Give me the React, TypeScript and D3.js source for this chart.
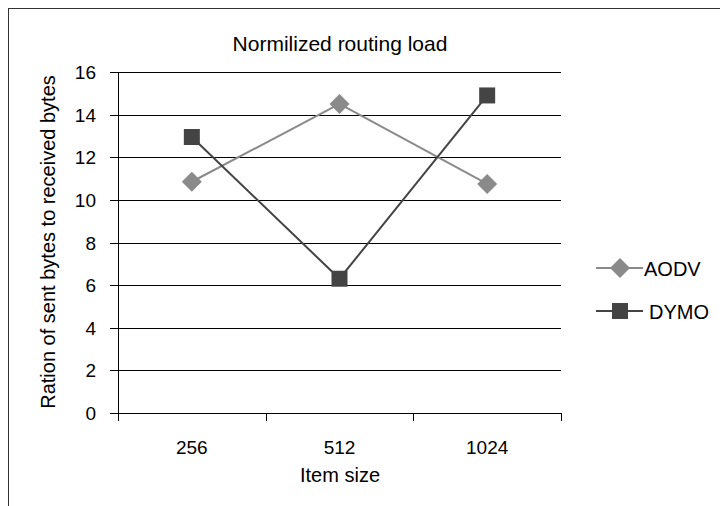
import React from 'react';
import * as d3 from 'd3';

const categories = ['256', '512', '1024'];
const aodv = [10.85, 14.5, 10.75];
const dymo = [12.95, 6.3, 14.9];
const yTicks = [0, 2, 4, 6, 8, 10, 12, 14, 16];

const W = 720;
const H = 498;
const FONT = '"Liberation Sans", Arial, sans-serif';

const AODV_COLOR = '#8a8a8a';
const DYMO_COLOR = '#444444';

export default function App() {
  // plot area (svg coords, svg sits at 8,8 in the page)
  const left = 110;
  const right = 553;
  const top = 64;
  const bottom = 405;

  const x = d3.scaleBand<string>().domain(categories).range([left, right]);
  const y = d3.scaleLinear().domain([0, 16]).range([bottom, top]);
  const cx = (c: string) => (x(c) ?? 0) + x.bandwidth() / 2;

  const line = d3.line<number>()
    .x((_, i) => cx(categories[i]))
    .y(d => y(d));

  const diamond = (px: number, py: number, r: number) =>
    `M${px},${py - r}L${px + r},${py}L${px},${py + r}L${px - r},${py}Z`;

  const legendX = 588;
  const legendY = [260, 303];

  return (
    <svg width={W} height={H} style={{ display: 'block', fontFamily: FONT }}>
      <rect x={0.5} y={0.5} width={900} height={900} fill="white" stroke="#333" strokeWidth={1} />

      <text x={332} y={43} textAnchor="middle" fontSize={21}>
        Normilized routing load
      </text>

      {/* grid + y ticks */}
      {yTicks.map(t => (
        <g key={t}>
          <line x1={left - 8} x2={right} y1={Math.round(y(t)) + 0.5} y2={Math.round(y(t)) + 0.5} stroke="#000" />
          <text x={left - 22} y={y(t) + 7} textAnchor="end" fontSize={19}>{t}</text>
        </g>
      ))}
      <line x1={left + 0.5} x2={left + 0.5} y1={top} y2={bottom + 8} stroke="#000" />

      {/* x ticks */}
      {categories.map(c => (
        <g key={c}>
          <line x1={Math.round((x(c) ?? 0) + x.bandwidth()) + 0.5} x2={Math.round((x(c) ?? 0) + x.bandwidth()) + 0.5}
            y1={bottom} y2={bottom + 8} stroke="#000" />
          <text x={cx(c)} y={bottom + 41} textAnchor="middle" fontSize={19}>{c}</text>
        </g>
      ))}

      <text x={332} y={474} textAnchor="middle" fontSize={20}>Item size</text>
      <text transform={`translate(47,234) rotate(-90)`} textAnchor="middle" fontSize={20}>
        Ration of sent bytes to received bytes
      </text>

      {/* series */}
      <path d={line(aodv) || ''} fill="none" stroke={AODV_COLOR} strokeWidth={2} />
      <path d={line(dymo) || ''} fill="none" stroke={DYMO_COLOR} strokeWidth={2} />
      {aodv.map((v, i) => (
        <path key={'a' + i} d={diamond(cx(categories[i]), y(v), 10)} fill={AODV_COLOR} />
      ))}
      {dymo.map((v, i) => (
        <rect key={'d' + i} x={cx(categories[i]) - 8} y={y(v) - 8} width={16} height={16} fill={DYMO_COLOR} />
      ))}

      {/* legend */}
      <line x1={legendX} x2={legendX + 47} y1={legendY[0]} y2={legendY[0]} stroke={AODV_COLOR} strokeWidth={2} />
      <path d={diamond(legendX + 24, legendY[0], 10)} fill={AODV_COLOR} />
      <text x={legendX + 48} y={legendY[0] + 8} fontSize={20}>AODV</text>
      <line x1={legendX} x2={legendX + 47} y1={legendY[1]} y2={legendY[1]} stroke={DYMO_COLOR} strokeWidth={2} />
      <rect x={legendX + 16} y={legendY[1] - 8} width={16} height={16} fill={DYMO_COLOR} />
      <text x={legendX + 53} y={legendY[1] + 8} fontSize={20}>DYMO</text>
    </svg>
  );
}
